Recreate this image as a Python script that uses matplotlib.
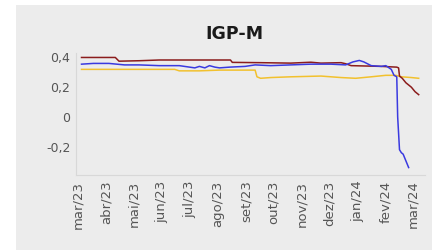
import numpy as np
import pandas as pd
import matplotlib
matplotlib.use("Agg")
import matplotlib.pyplot as plt
from matplotlib.patches import Rectangle

plt.rcParams['font.family'] = ['DejaVu Sans']

# series (date, value)
red_dates = ["2023-03-05", "2023-04-11", "2023-04-15", "2023-05-07", "2023-05-29", "2023-07-12",
             "2023-08-15", "2023-08-17", "2023-09-17", "2023-10-20", "2023-11-11", "2023-11-22",
             "2023-12-14", "2023-12-19", "2023-12-25", "2024-01-27", "2024-02-13", "2024-02-15",
             "2024-02-16", "2024-02-19", "2024-02-23", "2024-02-29", "2024-03-04", "2024-03-08"]
red_vals = [0.40, 0.40, 0.375, 0.378, 0.383, 0.383,
            0.383, 0.367, 0.365, 0.362, 0.368, 0.362,
            0.365, 0.358, 0.345, 0.340, 0.335, 0.33,
            0.275, 0.26, 0.23, 0.20, 0.17, 0.15]

blue_dates = ["2023-03-05", "2023-03-18", "2023-04-04", "2023-04-21", "2023-05-07", "2023-05-29",
              "2023-06-20", "2023-07-07", "2023-07-12", "2023-07-18", "2023-07-23", "2023-07-29",
              "2023-08-03", "2023-08-14", "2023-08-31", "2023-09-11", "2023-09-28", "2023-10-20",
              "2023-11-11", "2023-12-03", "2023-12-19", "2023-12-27", "2024-01-03", "2024-01-08",
              "2024-01-16", "2024-01-27", "2024-02-01", "2024-02-07", "2024-02-10", "2024-02-13",
              "2024-02-14", "2024-02-16", "2024-02-18", "2024-02-20", "2024-02-26"]
blue_vals = [0.355, 0.36, 0.36, 0.35, 0.35, 0.345,
             0.345, 0.33, 0.34, 0.33, 0.345, 0.335,
             0.33, 0.335, 0.34, 0.35, 0.345, 0.35,
             0.355, 0.355, 0.35, 0.37, 0.38, 0.37,
             0.345, 0.34, 0.345, 0.32, 0.28, 0.27,
             0.0, -0.22, -0.24, -0.25, -0.34]

yellow_dates = ["2023-03-05", "2023-06-15", "2023-06-20", "2023-07-12", "2023-08-03", "2023-09-11",
                "2023-09-13", "2023-09-17", "2023-09-28", "2023-10-20", "2023-11-22", "2023-12-14",
                "2023-12-30", "2024-01-16", "2024-02-01", "2024-02-12", "2024-02-18", "2024-02-29",
                "2024-03-08"]
yellow_vals = [0.32, 0.32, 0.31, 0.31, 0.315, 0.315,
               0.27, 0.26, 0.265, 0.27, 0.275, 0.265,
               0.26, 0.27, 0.28, 0.28, 0.27, 0.265,
               0.26]

month_ticks = pd.date_range("2023-03-01", "2024-03-01", freq="MS")
month_names = ["jan", "fev", "mar", "abr", "mai", "jun", "jul", "ago", "set", "out", "nov", "dez"]
tick_labels = [month_names[d.month - 1] + "/" + d.strftime("%y") for d in month_ticks]

fig = plt.figure(figsize=(4.32, 2.5), dpi=100)
fig.patch.set_facecolor("white")
fig.patches.append(Rectangle((16 / 432, 0), 1, 1 - 5 / 250, transform=fig.transFigure,
                             facecolor="#ececec", edgecolor="none", zorder=-10))

ax = fig.add_axes([0.176, 0.30, 0.808, 0.488])
ax.set_facecolor("#ececec")

ax.plot(pd.to_datetime(yellow_dates), yellow_vals, color="#f2c12e", lw=1.1)
ax.plot(pd.to_datetime(red_dates), red_vals, color="#8b1c1c", lw=1.1)
ax.plot(pd.to_datetime(blue_dates), blue_vals, color="#3a3ae0", lw=1.1)

ax.set_ylim(-0.39, 0.43)
ax.set_yticks([-0.2, 0, 0.2, 0.4])
ax.set_yticklabels(["-0,2", "0", "0,2", "0,4"])
ax.set_xlim(pd.Timestamp("2023-02-27"), pd.Timestamp("2024-03-15"))
ax.set_xticks(month_ticks)
ax.set_xticklabels(tick_labels, rotation=90)

for s in ["top", "right"]:
    ax.spines[s].set_visible(False)
for s in ["left", "bottom"]:
    ax.spines[s].set_color("#d8d8d8")
ax.tick_params(axis="y", labelsize=9, colors="#555555", length=0, pad=4)
ax.tick_params(axis="x", labelsize=9.5, colors="#555555", length=0, pad=4)

fig.text(234 / 432, 1 - 34 / 250, "IGP-M", ha="center", va="center",
         fontsize=12.5, fontweight="bold", color="#1a1a1a")

fig.savefig("out.png", dpi=100, facecolor=fig.get_facecolor())
